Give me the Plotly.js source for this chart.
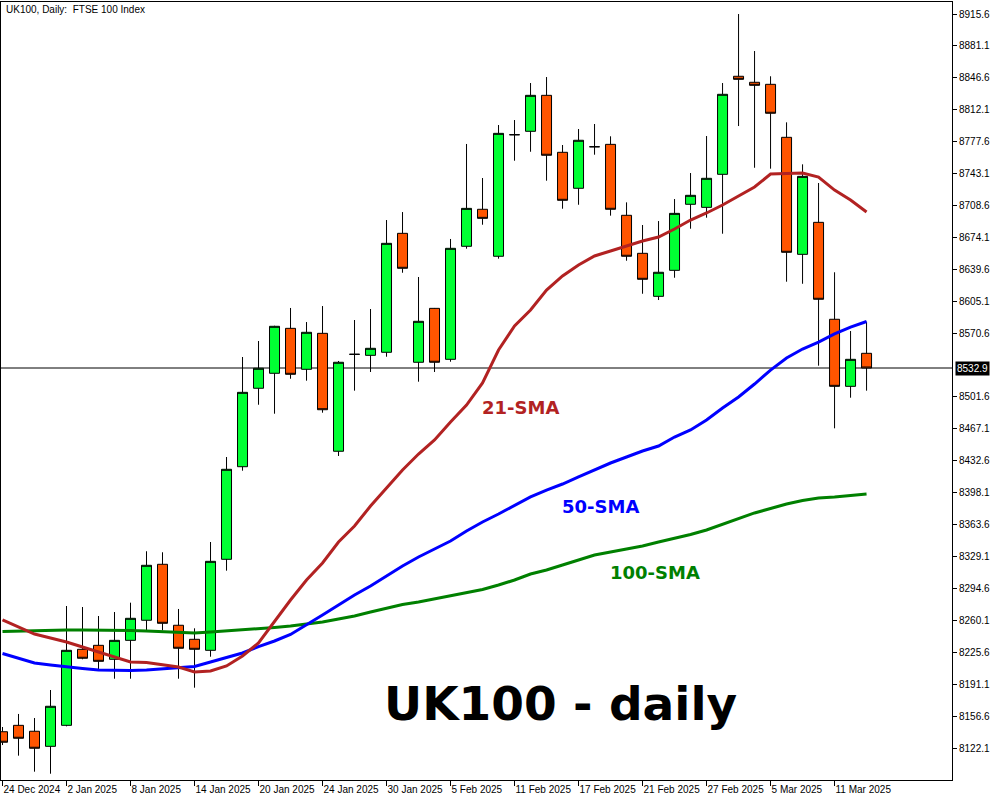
<!DOCTYPE html>
<html><head><meta charset="utf-8">
<script src="https://cdn.plot.ly/plotly-3.0.1.min.js"></script>
<style>html,body{margin:0;padding:0;background:#fff}#chart{width:1000px;height:800px}</style>
</head><body><div id="chart"></div>
<script>
const dates = ['24 Dec 2024','27 Dec 2024','30 Dec 2024','31 Dec 2024','2 Jan 2025','3 Jan 2025','6 Jan 2025','7 Jan 2025','8 Jan 2025','9 Jan 2025','10 Jan 2025','13 Jan 2025','14 Jan 2025','15 Jan 2025','16 Jan 2025','17 Jan 2025','20 Jan 2025','21 Jan 2025','22 Jan 2025','23 Jan 2025','24 Jan 2025','27 Jan 2025','28 Jan 2025','29 Jan 2025','30 Jan 2025','31 Jan 2025','3 Feb 2025','4 Feb 2025','5 Feb 2025','6 Feb 2025','7 Feb 2025','10 Feb 2025','11 Feb 2025','12 Feb 2025','13 Feb 2025','14 Feb 2025','17 Feb 2025','18 Feb 2025','19 Feb 2025','20 Feb 2025','21 Feb 2025','24 Feb 2025','25 Feb 2025','26 Feb 2025','27 Feb 2025','28 Feb 2025','3 Mar 2025','4 Mar 2025','5 Mar 2025','6 Mar 2025','7 Mar 2025','10 Mar 2025','11 Mar 2025','12 Mar 2025','13 Mar 2025'];

const openP  = [8139.7,8146.6,8140.2,8123.9,8146.6,8228.8,8233.1,8218.0,8238.5,8260.2,8320.7,8254.8,8239.6,8227.7,8326.1,8426.2,8511.0,8527.2,8575.8,8531.5,8570.4,8442.9,8547.7,8546.6,8549.9,8678.5,8539.1,8597.4,8542.3,8664.5,8704.5,8653.7,8785.1,8788.8,8827.7,8766.1,8727.2,8772.1,8774.7,8698.0,8656.9,8610.4,8638.5,8709.9,8706.6,8742.3,8848.3,8841.8,8839.6,8782.3,8655.8,8690.4,8585.6,8513.1,8548.8];
const highP  = [8144.8,8158.9,8154.5,8184.8,8275.6,8274.5,8264.8,8269.1,8279.2,8334.8,8333.7,8272.4,8251.5,8344.8,8436.7,8544.8,8562.1,8578.6,8597.8,8582.6,8599.9,8540.5,8584.8,8596.7,8692.9,8701.5,8631.3,8597.8,8672.4,8775.1,8738.3,8795.6,8801.0,8841.0,8847.5,8774.0,8791.3,8796.7,8783.4,8712.0,8687.5,8691.8,8715.6,8743.7,8783.7,8841.0,8915.6,8875.6,8848.3,8798.5,8753.1,8732.9,8636.4,8572.9,8583.0];
const lowP   = [8125.3,8113.8,8096.5,8094.3,8145.5,8218.0,8207.5,8197.0,8197.0,8249.3,8249.3,8197.0,8187.3,8220.8,8313.8,8421.9,8493.2,8483.5,8521.3,8519.2,8484.6,8437.8,8508.4,8528.6,8545.1,8635.9,8518.1,8528.6,8539.7,8661.9,8687.8,8651.1,8757.0,8766.7,8735.4,8705.1,8709.4,8763.5,8697.6,8648.9,8613.2,8606.4,8630.5,8683.5,8695.4,8678.1,8794.5,8749.4,8748.4,8626.2,8624.0,8535.4,8467.7,8500.8,8508.4];
const closeP = [8128.3,8132.6,8121.8,8167.2,8227.7,8219.1,8215.8,8238.5,8262.3,8319.6,8256.9,8229.9,8228.8,8323.9,8423.4,8506.6,8532.6,8578.0,8526.1,8571.5,8487.8,8539.1,8547.7,8554.2,8667.7,8640.7,8583.4,8539.1,8662.3,8705.5,8694.7,8786.6,8785.1,8827.7,8762.9,8714.2,8779.1,8772.1,8704.5,8653.7,8628.8,8636.4,8700.1,8719.6,8738.0,8828.8,8845.0,8838.5,8808.3,8658.0,8740.1,8607.2,8513.1,8542.3,8532.9];

const sma21  = [8260.5,8252.9,8245.3,8241.0,8236.7,8231.3,8225.9,8220.5,8215.1,8214.5,8211.8,8209.7,8204.3,8205.3,8210.8,8221.6,8235.6,8259.4,8282.1,8303.7,8322.1,8344.8,8362.1,8383.7,8403.2,8422.6,8439.9,8455.1,8474.5,8492.9,8516.7,8552.4,8578.3,8595.6,8617.2,8632.4,8644.3,8654.0,8659.4,8664.8,8670.2,8674.5,8683.2,8692.9,8700.5,8709.1,8718.9,8728.6,8742.6,8742.9,8743.7,8739.4,8725.3,8714.5,8701.5];
const sma50  = [8224.3,8219.4,8214.0,8211.8,8209.7,8208.0,8206.4,8205.9,8205.9,8206.4,8207.5,8208.6,8210.2,8215.1,8219.9,8224.8,8231.8,8237.8,8244.8,8255.1,8265.9,8276.7,8287.5,8297.2,8308.0,8318.9,8328.6,8337.2,8345.9,8356.7,8366.4,8375.1,8384.3,8393.5,8401.0,8407.5,8415.1,8422.6,8430.2,8436.7,8443.2,8448.6,8458.3,8465.9,8476.7,8489.7,8501.6,8515.6,8530.7,8543.7,8553.4,8561.0,8569.7,8577.2,8583.2];
const sma100 = [8248.0,8248.6,8249.1,8249.7,8249.7,8249.7,8249.7,8249.1,8249.1,8248.6,8248.0,8247.5,8246.4,8247.5,8248.6,8249.7,8251.3,8252.4,8254.0,8256.2,8258.3,8261.6,8264.8,8269.1,8273.5,8277.2,8279.9,8283.2,8286.4,8289.7,8293.5,8298.3,8303.7,8310.2,8314.5,8319.9,8325.3,8330.8,8334.0,8337.2,8340.5,8344.8,8348.6,8352.9,8357.8,8363.7,8369.7,8376.2,8381.0,8385.9,8389.7,8392.4,8393.5,8395.1,8396.7];

const yTickVals = [8122.1,8156.6,8191.1,8225.6,8260.1,8294.6,8329.1,8363.6,8398.1,8432.6,8467.1,8501.6,8570.6,8605.1,8639.6,8674.1,8708.6,8743.1,8777.6,8812.1,8846.6,8881.1,8915.6];

const idx = dates.map((d, i) => i);
const tickIdx = idx.filter(i => i % 4 === 0);
const tickText = tickIdx.map(i => dates[i]);
const lastClose = closeP[closeP.length - 1];

const axFont = {family: 'Liberation Sans, Arial, sans-serif', size: 10, color: '#000'};

const traces = [
  {
    type: 'candlestick', x: idx, open: openP, high: highP, low: lowP, close: closeP,
    increasing: {fillcolor: '#00ff33', line: {color: '#000', width: 1}},
    decreasing: {fillcolor: '#ff5500', line: {color: '#000', width: 1}},
    whiskerwidth: 0, showlegend: false, hoverinfo: 'skip'
  },
  {type: 'scatter', mode: 'lines', x: idx, y: sma100, line: {color: '#008000', width: 3}, showlegend: false, hoverinfo: 'skip'},
  {type: 'scatter', mode: 'lines', x: idx, y: sma50, line: {color: '#0000ff', width: 3}, showlegend: false, hoverinfo: 'skip'},
  {type: 'scatter', mode: 'lines', x: idx, y: sma21, line: {color: '#b22222', width: 3}, showlegend: false, hoverinfo: 'skip'}
];

const layout = {
  width: 1000, height: 800,
  margin: {l: 1, r: 48, t: 2, b: 20},
  paper_bgcolor: '#fff', plot_bgcolor: '#fff',
  boxgap: 0.375, boxgroupgap: 0,
  showlegend: false,
  xaxis: {
    range: [-0.094, 59.34], rangeslider: {visible: false},
    tickmode: 'array', tickvals: tickIdx, ticktext: tickText,
    ticks: 'outside', ticklen: 5, tickcolor: '#000', tickwidth: 1,
    ticklabelposition: 'outside right', tickangle: 0, automargin: false,
    showline: true, linecolor: '#000', linewidth: 1, mirror: true,
    showgrid: false, zeroline: false, tickfont: axFont, fixedrange: true
  },
  yaxis: {
    side: 'right', range: [8087.5, 8928.6], automargin: false,
    tickmode: 'array', tickvals: yTickVals, ticktext: yTickVals.map(v => v.toFixed(1)),
    ticks: 'outside', ticklen: 4, tickcolor: '#000', tickwidth: 1,
    showline: true, linecolor: '#000', linewidth: 1, mirror: true,
    showgrid: false, zeroline: false, tickfont: axFont, fixedrange: true
  },
  shapes: [
    {type: 'line', xref: 'paper', x0: 0, x1: 1, yref: 'y', y0: lastClose, y1: lastClose,
     line: {color: '#000', width: 1}, layer: 'below'}
  ],
  annotations: [
    {xref: 'paper', yref: 'paper', x: 0.003, y: 0.991, xanchor: 'left', yanchor: 'middle',
     text: 'UK100, Daily:  FTSE 100 Index', showarrow: false, font: axFont},
    {xref: 'paper', yref: 'y', x: 1, xshift: 3, y: lastClose, xanchor: 'left', yanchor: 'middle',
     text: lastClose.toFixed(1), showarrow: false, bgcolor: '#000', borderpad: 1,
     font: {family: 'Liberation Sans, Arial, sans-serif', size: 10, color: '#fff'}},
    {x: 32.4, y: 8489.7, text: '<b>21-SMA</b>', showarrow: false,
     font: {family: 'DejaVu Sans, sans-serif', size: 18, color: '#b22222'}},
    {x: 37.4, y: 8383.7, text: '<b>50-SMA</b>', showarrow: false,
     font: {family: 'DejaVu Sans, sans-serif', size: 18, color: '#0000ff'}},
    {x: 40.8, y: 8311.3, text: '<b>100-SMA</b>', showarrow: false,
     font: {family: 'DejaVu Sans, sans-serif', size: 18, color: '#008000'}},
    {x: 34.9, y: 8169.7, text: '<b>UK100 - daily</b>', showarrow: false,
     font: {family: 'DejaVu Sans, sans-serif', size: 47, color: '#000'}}
  ]
};

Plotly.newPlot('chart', traces, layout, {displayModeBar: false, staticPlot: true});
</script>
</body></html>
